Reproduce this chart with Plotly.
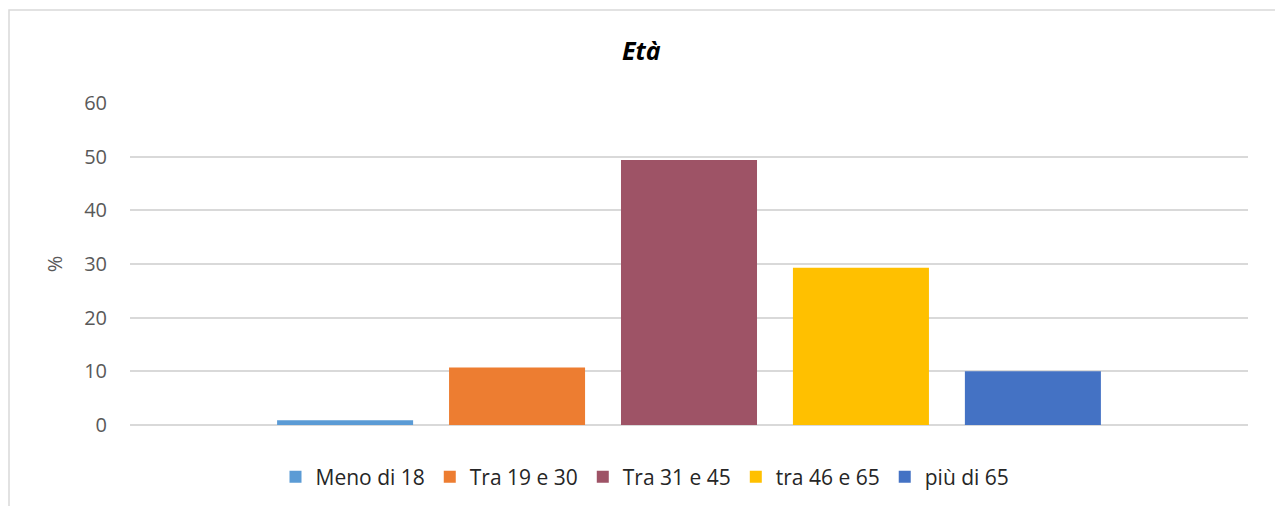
import plotly.graph_objects as go

# Age distribution (%)
categories = ["Meno di 18", "Tra 19 e 30", "Tra 31 e 45", "tra 46 e 65", "più di 65"]
values = [0.9, 10.7, 49.4, 29.3, 10.0]
colors = ["#5B9BD5", "#ED7D31", "#9E5366", "#FFC000", "#4472C4"]
y_ticks = [0, 10, 20, 30, 40, 50, 60]

FONT = "Open Sans, Liberation Sans, sans-serif"
W, H = 1275, 506
ML, MR, MT, MB = 130, 27, 103, 81

fig = go.Figure()
for name, val, col in zip(categories, values, colors):
    fig.add_trace(go.Bar(
        x=[""], y=[val], name=name,
        marker=dict(color=col, line=dict(width=0)),
        hoverinfo="name+y",
    ))

plot_w = W - ML - MR
plot_h = H - MT - MB

# outer chart frame (light grey), expressed in paper coordinates
def px_x(px):
    return (px - ML) / plot_w

def px_y(py):
    return (H - MB - py) / plot_h

fig.add_shape(
    type="rect", xref="paper", yref="paper",
    x0=px_x(9), x1=px_x(1320), y0=px_y(540), y1=px_y(10),
    line=dict(color="#D9D9D9", width=1.5), fillcolor="rgba(0,0,0,0)",
    layer="below",
)

fig.update_layout(
    width=W, height=H,
    margin=dict(l=ML, r=MR, t=MT, b=MB, autoexpand=False),
    paper_bgcolor="white", plot_bgcolor="white",
    barmode="group", bargap=0.231, bargroupgap=0.209,
    title=dict(
        text="<b><i>Età</i></b>", x=0.503, xref="container", xanchor="center",
        y=1 - 51 / H, yref="container", yanchor="middle",
        font=dict(family=FONT, size=25, color="#000000"),
    ),
    font=dict(family=FONT, size=20, color="#595959"),
    showlegend=True,
    legend=dict(
        orientation="h", xref="container", x=645 / W, xanchor="center",
        yref="container", y=1 - 477 / H, yanchor="middle",
        font=dict(family=FONT, size=21, color="#262626"),
        itemwidth=30, traceorder="normal",
        bgcolor="rgba(0,0,0,0)",
    ),
    xaxis=dict(showticklabels=False, showgrid=False, zeroline=False,
               showline=False, ticks=""),
    yaxis=dict(
        range=[0, 60], tickvals=y_ticks, showgrid=True,
        gridcolor="#D9D9D9", gridwidth=1.5,
        zeroline=True, zerolinecolor="#D9D9D9", zerolinewidth=1.5,
        showline=False, ticks="", ticklabelstandoff=22,
        tickfont=dict(family=FONT, size=20, color="#595959"),
        title=dict(text="%", standoff=16,
                   font=dict(family=FONT, size=20, color="#595959")),
    ),
)

fig.write_html("out.html")
